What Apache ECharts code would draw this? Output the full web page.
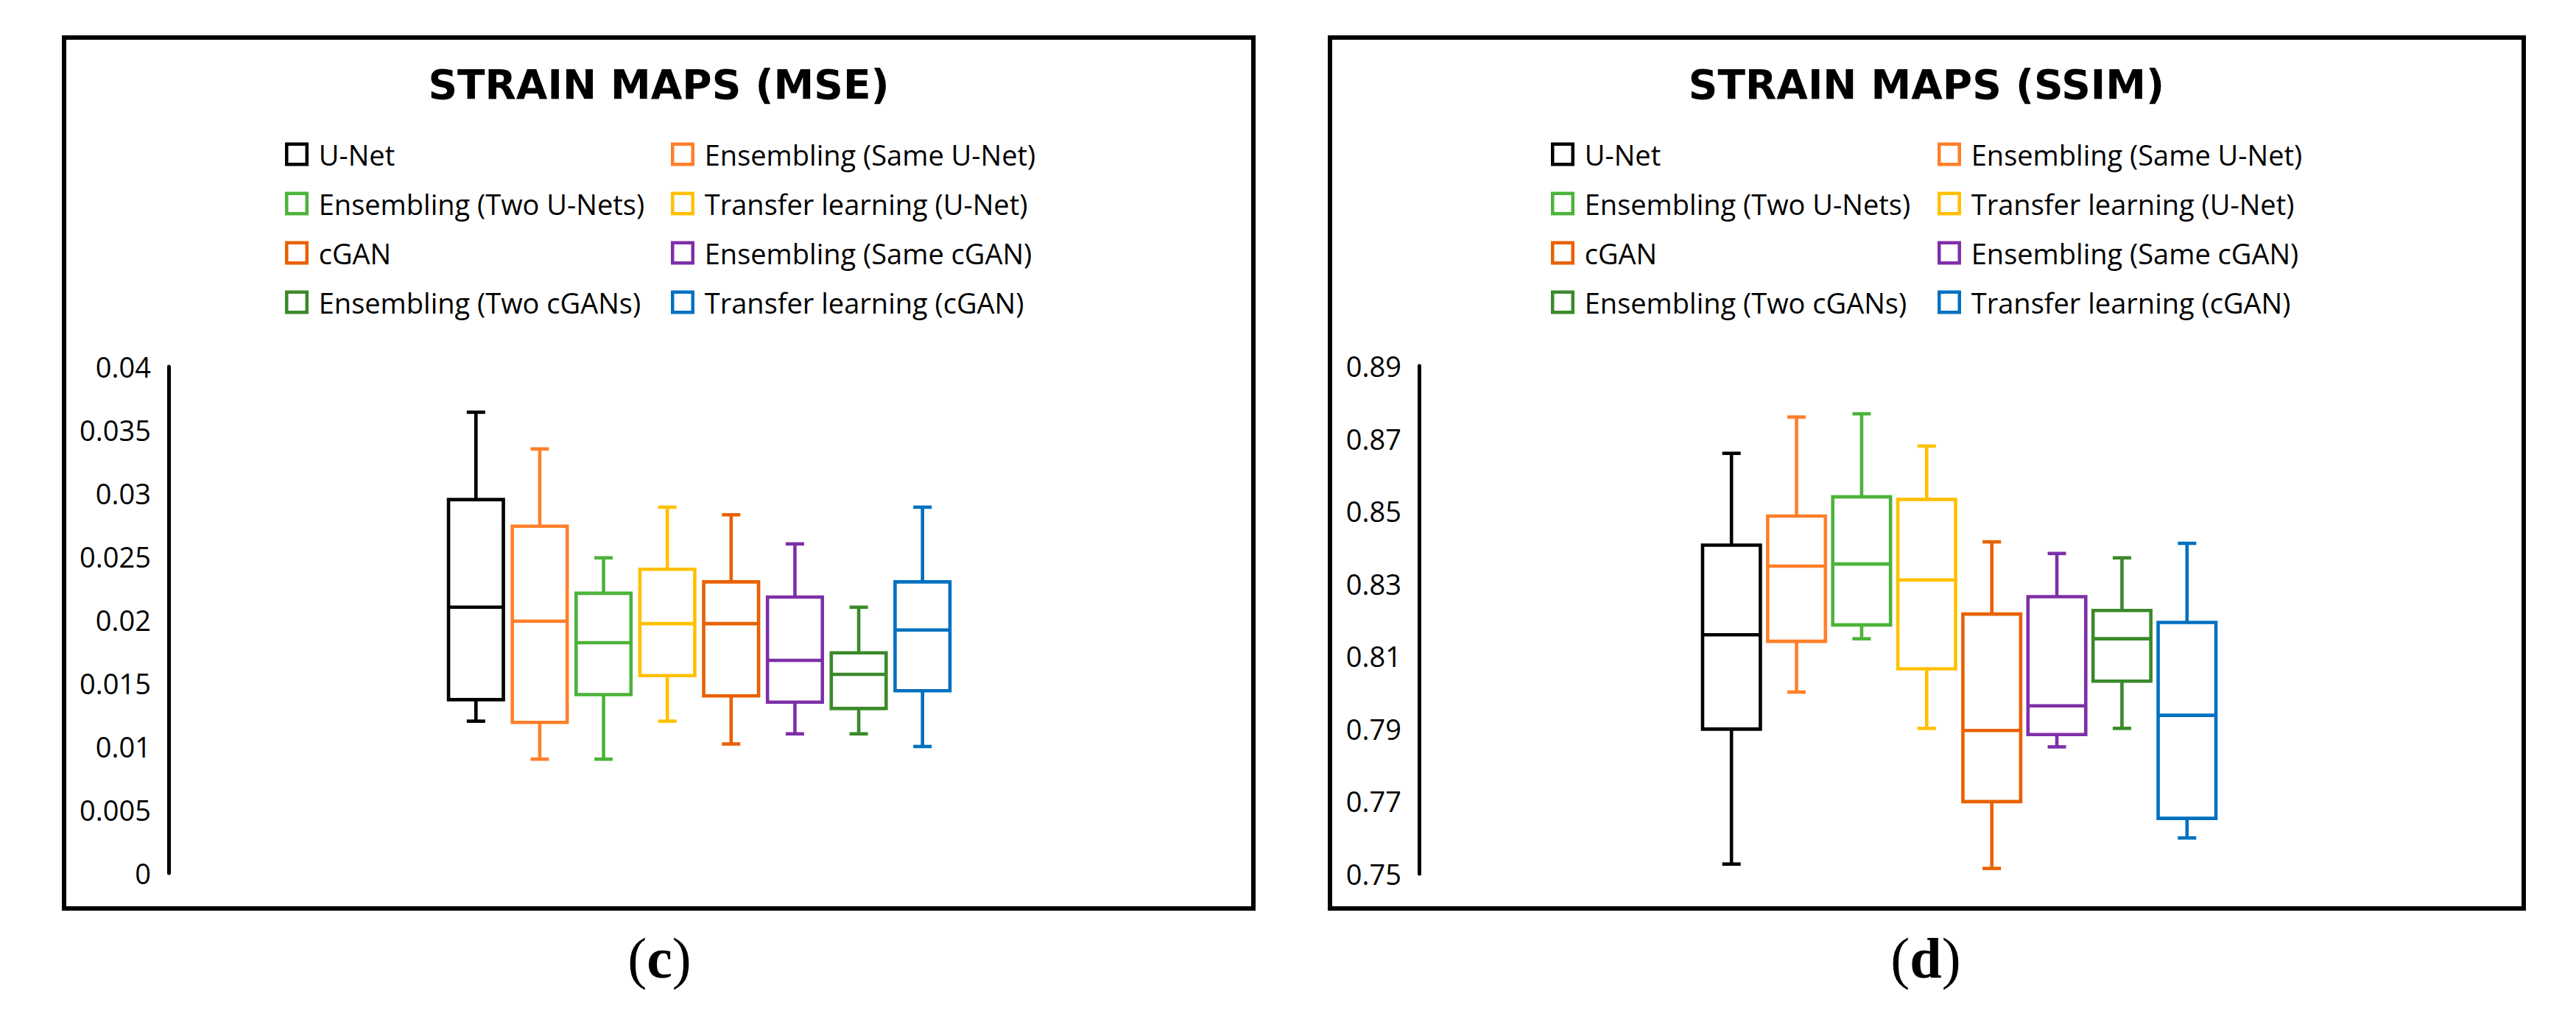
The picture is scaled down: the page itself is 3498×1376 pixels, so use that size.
<!DOCTYPE html>
<html>
<head>
<meta charset="utf-8">
<script src="https://cdn.jsdelivr.net/npm/echarts@6/dist/echarts.min.js"></script>
<style>
html,body{margin:0;padding:0;background:#fff;}
#chart{width:3498px;height:1376px;}
</style>
</head>
<body>
<div id="chart"></div>
<script>
// ---------- data ----------
const categories = ['U-Net', 'Ensembling (Same U-Net)', 'Ensembling (Two U-Nets)', 'Transfer learning (U-Net)',
  'cGAN', 'Ensembling (Same cGAN)', 'Ensembling (Two cGANs)', 'Transfer learning (cGAN)'];
const colors = ['#000000', '#FF7F2A', '#4CB33A', '#FFC000', '#E86100', '#7E2FA8', '#3A8A2A', '#0070C0'];

// MSE (panel c)
const mseMin    = [0.0120, 0.0090, 0.0090, 0.0120, 0.0102, 0.0110, 0.0110, 0.0100];
const mseQ1     = [0.0137, 0.0119, 0.0141, 0.0156, 0.0140, 0.0135, 0.0130, 0.0144];
const mseMedian = [0.0210, 0.0199, 0.0182, 0.0197, 0.0197, 0.0168, 0.0157, 0.0192];
const mseQ3     = [0.0295, 0.0274, 0.0221, 0.0240, 0.0230, 0.0218, 0.0174, 0.0230];
const mseMax    = [0.0364, 0.0335, 0.0249, 0.0289, 0.0283, 0.0260, 0.0210, 0.0289];

// SSIM (panel d)
const ssimMin    = [0.7527, 0.8001, 0.8148, 0.7901, 0.7515, 0.7850, 0.7901, 0.7599];
const ssimQ1     = [0.7899, 0.8141, 0.8186, 0.8065, 0.7699, 0.7884, 0.8031, 0.7653];
const ssimMedian = [0.8159, 0.8348, 0.8354, 0.8310, 0.7895, 0.7963, 0.8148, 0.7937];
const ssimQ3     = [0.8406, 0.8486, 0.8539, 0.8532, 0.8216, 0.8264, 0.8226, 0.8193];
const ssimMax    = [0.8659, 0.8759, 0.8768, 0.8679, 0.8415, 0.8383, 0.8371, 0.8411];

// axis tick settings
const mseAxis  = {min: 0, max: 0.04, interval: 0.005};
const ssimAxis = {min: 0.75, max: 0.89, interval: 0.01}; // labels every 0.02

// ---------- rendering ----------
const FONT = 'Open Sans';
function makeRender(boxRatio, capW, lw) {
  return function (params, api) {
    const x = api.value(0);
    const pMin = api.coord([x, api.value(1)]);
    const pQ1 = api.coord([x, api.value(2)]);
    const pMed = api.coord([x, api.value(3)]);
    const pQ3 = api.coord([x, api.value(4)]);
    const pMax = api.coord([x, api.value(5)]);
    const band = api.size([1, 0])[0];
    const bw = band * boxRatio;
    const cx = pMed[0];
    const c = api.visual('color');
    const st = {stroke: c, lineWidth: lw, fill: 'none'};
    return {
      type: 'group',
      children: [
        {type: 'line', shape: {x1: cx, y1: pQ3[1], x2: cx, y2: pMax[1]}, style: st},
        {type: 'line', shape: {x1: cx - capW / 2, y1: pMax[1], x2: cx + capW / 2, y2: pMax[1]}, style: st},
        {type: 'line', shape: {x1: cx, y1: pQ1[1], x2: cx, y2: pMin[1]}, style: st},
        {type: 'line', shape: {x1: cx - capW / 2, y1: pMin[1], x2: cx + capW / 2, y2: pMin[1]}, style: st},
        {type: 'rect', shape: {x: cx - bw / 2, y: pQ3[1], width: bw, height: pQ1[1] - pQ3[1]}, style: st},
        {type: 'line', shape: {x1: cx - bw / 2, y1: pMed[1], x2: cx + bw / 2, y2: pMed[1]}, style: st}
      ]
    };
  };
}

const series = [];
categories.forEach(function (name, i) {
  series.push({
    name: name, type: 'custom', xAxisIndex: 0, yAxisIndex: 0,
    itemStyle: {color: colors[i]},
    renderItem: makeRender(0.86, 25, 4.6),
    encode: {x: 0, y: [1, 2, 3, 4, 5]},
    data: [[i, mseMin[i], mseQ1[i], mseMedian[i], mseQ3[i], mseMax[i]]],
    silent: true
  });
  series.push({
    name: name, type: 'custom', xAxisIndex: 1, yAxisIndex: 1,
    itemStyle: {color: colors[i]},
    renderItem: makeRender(0.888, 25, 4.6),
    encode: {x: 0, y: [1, 2, 3, 4, 5]},
    data: [[i, ssimMin[i], ssimQ1[i], ssimMedian[i], ssimQ3[i], ssimMax[i]]],
    silent: true
  });
});

function legendData(idxs) {
  return idxs.map(function (i) {
    return {name: categories[i], icon: 'rect',
      itemStyle: {color: 'rgba(0,0,0,0)', borderColor: colors[i], borderWidth: 4.5}};
  });
}
function makeLegend(left, idxs) {
  return {
    orient: 'vertical', left: left, top: 189.5, padding: 0,
    itemWidth: 27.5, itemHeight: 27.5, itemGap: 27,
    selectedMode: false,
    textStyle: {fontFamily: FONT, fontSize: 38, color: '#000', lineHeight: 40, padding: [0, 0, 0, 11]},
    data: legendData(idxs)
  };
}

const labelStyle = {fontFamily: FONT, fontSize: 38, color: '#000', margin: 24};

const option = {
  backgroundColor: '#ffffff',
  animation: false,
  grid: [
    {left: 603, width: 693, top: 498, height: 688, containLabel: false},
    {left: 2307, width: 707, top: 497, height: 690, containLabel: false}
  ],
  xAxis: [
    {gridIndex: 0, type: 'category', data: categories, show: false},
    {gridIndex: 1, type: 'category', data: categories, show: false}
  ],
  yAxis: [
    {gridIndex: 0, type: 'value', min: mseAxis.min, max: mseAxis.max, interval: mseAxis.interval,
      offset: 374,
      axisLine: {show: true, lineStyle: {color: '#000', width: 5}},
      axisTick: {show: false}, splitLine: {show: false},
      axisLabel: labelStyle},
    {gridIndex: 1, type: 'value', min: ssimAxis.min, max: ssimAxis.max, interval: ssimAxis.interval,
      offset: 380,
      axisLine: {show: true, lineStyle: {color: '#000', width: 5}},
      axisTick: {show: false}, splitLine: {show: false},
      axisLabel: Object.assign({}, labelStyle, {
        formatter: function (v) {
          const k = Math.round(v * 100);
          return (k % 2 === 1) ? (k / 100).toFixed(2) : '';
        }
      })}
  ],
  legend: [
    makeLegend(387, [0, 2, 4, 6]),
    makeLegend(911, [1, 3, 5, 7]),
    makeLegend(2106, [0, 2, 4, 6]),
    makeLegend(2631, [1, 3, 5, 7])
  ],
  graphic: [
    {type: 'rect', silent: true, shape: {x: 87, y: 51, width: 1615, height: 1183},
      style: {fill: 'none', stroke: '#000', lineWidth: 6}},
    {type: 'rect', silent: true, shape: {x: 1806, y: 51, width: 1621, height: 1183},
      style: {fill: 'none', stroke: '#000', lineWidth: 6}},
    {type: 'text', silent: true, x: 894.5, y: 115,
      style: {text: 'STRAIN MAPS (MSE)', font: 'bold 55px "DejaVu Sans"', fill: '#000',
        align: 'center', verticalAlign: 'middle', textAlign: 'center', textVerticalAlign: 'middle'}},
    {type: 'text', silent: true, x: 2616, y: 115,
      style: {text: 'STRAIN MAPS (SSIM)', font: 'bold 55px "DejaVu Sans"', fill: '#000',
        align: 'center', verticalAlign: 'middle', textAlign: 'center', textVerticalAlign: 'middle'}},
    {type: 'text', silent: true, x: 895.5, y: 1301,
      style: {text: '{n|(}{b|c}{n|)}', fill: '#000',
        rich: {n: {font: '78px "Liberation Serif"', fill: '#000'}, b: {font: 'bold 78px "Liberation Serif"', fill: '#000'}},
        align: 'center', verticalAlign: 'middle', textAlign: 'center', textVerticalAlign: 'middle'}},
    {type: 'text', silent: true, x: 2615, y: 1301,
      style: {text: '{n|(}{b|d}{n|)}', fill: '#000',
        rich: {n: {font: '78px "Liberation Serif"', fill: '#000'}, b: {font: 'bold 78px "Liberation Serif"', fill: '#000'}},
        align: 'center', verticalAlign: 'middle', textAlign: 'center', textVerticalAlign: 'middle'}}
  ],
  series: series
};

const chart = echarts.init(document.getElementById('chart'), null, {renderer: 'svg', width: 3498, height: 1376});
chart.setOption(option);
</script>
</body>
</html>
